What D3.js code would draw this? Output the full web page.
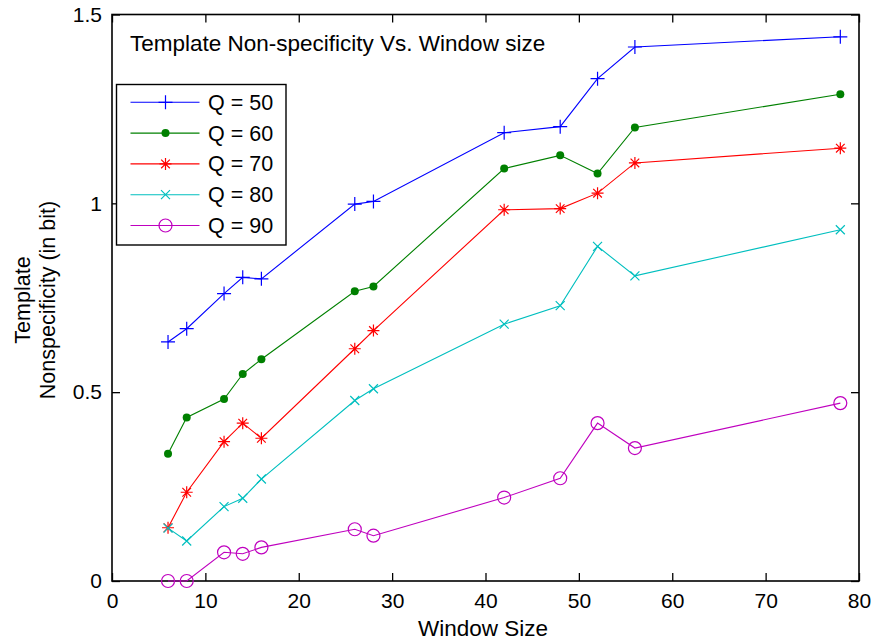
<!DOCTYPE html>
<head>
<meta charset="UTF-8">
<script src="https://d3js.org/d3.v7.min.js"></script>
<style>
  body { margin: 0; background: #fff; }
  svg { font-family: Arial, "Liberation Sans", Helvetica, sans-serif; }
  .tick text { font-size: 21px; fill: #000; }
</style>
</head>
<body>
<div id="chart"></div>
<script>
  // window sizes (x)
  var windowSizes = [6, 8, 12, 14, 16, 26, 28, 42, 48, 52, 56, 78];

  var seriesNames = ["Q = 50", "Q = 60", "Q = 70", "Q = 80", "Q = 90"];

  var q50 = [0.633, 0.668, 0.761, 0.804, 0.800, 0.998, 1.005, 1.187, 1.203, 1.330, 1.414, 1.441];
  var q60 = [0.337, 0.433, 0.482, 0.548, 0.587, 0.767, 0.780, 1.092, 1.127, 1.079, 1.201, 1.289];
  var q70 = [0.141, 0.235, 0.369, 0.418, 0.378, 0.615, 0.663, 0.983, 0.986, 1.027, 1.107, 1.146];
  var q80 = [0.140, 0.106, 0.197, 0.219, 0.270, 0.478, 0.509, 0.680, 0.729, 0.886, 0.808, 0.930];
  var q90 = [0.000, 0.000, 0.076, 0.072, 0.089, 0.137, 0.120, 0.221, 0.272, 0.418, 0.352, 0.471];

  var xTicks = [0, 10, 20, 30, 40, 50, 60, 70, 80];
  var yTicks = [0, 0.5, 1, 1.5];

  var colors = ["#0000ff", "#008000", "#ff0000", "#00bfbf", "#bf00bf"];
  var markers = ["plus", "dot", "star", "cross", "circle"];
  var allSeries = [q50, q60, q70, q80, q90];

  var width = 872, height = 641;
  var plotL = 112, plotR = 859, plotT = 14.5, plotB = 581;

  var x = d3.scaleLinear().domain([0, 80]).range([plotL, plotR]);
  var y = d3.scaleLinear().domain([0, 1.5]).range([plotB, plotT]);

  var svg = d3.select("#chart").append("svg")
      .attr("width", width)
      .attr("height", height);

  // axes: ticks point inward, on all four sides
  var tl = 8;
  svg.append("g").attr("transform", "translate(0," + plotB + ")")
      .call(d3.axisBottom(x).tickValues(xTicks).tickSizeInner(-tl).tickSizeOuter(0).tickPadding(12))
      .call(function(g) { g.select(".domain").remove(); });
  svg.append("g").attr("transform", "translate(0," + plotT + ")")
      .call(d3.axisTop(x).tickValues(xTicks).tickSizeInner(-tl).tickSizeOuter(0).tickFormat(""))
      .call(function(g) { g.select(".domain").remove(); });
  svg.append("g").attr("transform", "translate(" + plotL + ",0)")
      .call(d3.axisLeft(y).tickValues(yTicks).tickSizeInner(-tl).tickSizeOuter(0).tickPadding(10).tickFormat(d3.format("")))
      .call(function(g) { g.select(".domain").remove(); });
  svg.append("g").attr("transform", "translate(" + plotR + ",0)")
      .call(d3.axisRight(y).tickValues(yTicks).tickSizeInner(-tl).tickSizeOuter(0).tickFormat(""))
      .call(function(g) { g.select(".domain").remove(); });
  svg.selectAll(".tick line").attr("stroke", "#000").attr("stroke-width", 1.3);

  svg.append("rect")
      .attr("x", plotL).attr("y", plotT)
      .attr("width", plotR - plotL).attr("height", plotB - plotT)
      .attr("fill", "none").attr("stroke", "#000").attr("stroke-width", 1.6);

  function drawMarker(g, type, color, cx, cy) {
    var s;
    if (type == "plus") {
      g.append("path").attr("d", "M" + (cx - 7) + "," + cy + "H" + (cx + 7) + "M" + cx + "," + (cy - 7) + "V" + (cy + 7))
        .attr("stroke", color).attr("stroke-width", 1.2).attr("fill", "none");
    } else if (type == "dot") {
      g.append("circle").attr("cx", cx).attr("cy", cy).attr("r", 4).attr("fill", color);
    } else if (type == "star") {
      s = 6;
      var d2 = s * 0.72;
      g.append("path").attr("d",
          "M" + (cx - s) + "," + cy + "H" + (cx + s) +
          "M" + cx + "," + (cy - s) + "V" + (cy + s) +
          "M" + (cx - d2) + "," + (cy - d2) + "L" + (cx + d2) + "," + (cy + d2) +
          "M" + (cx - d2) + "," + (cy + d2) + "L" + (cx + d2) + "," + (cy - d2))
        .attr("stroke", color).attr("stroke-width", 1.2).attr("fill", "none");
    } else if (type == "cross") {
      s = 4.5;
      g.append("path").attr("d",
          "M" + (cx - s) + "," + (cy - s) + "L" + (cx + s) + "," + (cy + s) +
          "M" + (cx - s) + "," + (cy + s) + "L" + (cx + s) + "," + (cy - s))
        .attr("stroke", color).attr("stroke-width", 1.2).attr("fill", "none");
    } else {
      g.append("circle").attr("cx", cx).attr("cy", cy).attr("r", 6.5)
        .attr("fill", "none").attr("stroke", color).attr("stroke-width", 1.2);
    }
  }

  var line = d3.line()
      .x(function(d, i) { return x(windowSizes[i]); })
      .y(function(d) { return y(d); });

  allSeries.forEach(function(vals, k) {
    var g = svg.append("g");
    g.append("path").attr("d", line(vals))
      .attr("fill", "none").attr("stroke", colors[k]).attr("stroke-width", 1.1);
    vals.forEach(function(v, i) {
      drawMarker(g, markers[k], colors[k], x(windowSizes[i]), y(v));
    });
  });

  // title inside axes
  svg.append("text")
      .attr("x", 130).attr("y", 51)
      .attr("font-size", "22.5px")
      .text("Template Non-specificity Vs. Window size");

  // legend
  var legX = 116.5, legY = 84.5, legW = 169.5, legH = 160.5;
  var leg = svg.append("g");
  leg.append("rect").attr("x", legX).attr("y", legY).attr("width", legW).attr("height", legH)
      .attr("fill", "#fff").attr("stroke", "#000").attr("stroke-width", 1.4);
  seriesNames.forEach(function(name, k) {
    var ly = 102.3 + k * 30.8;
    leg.append("line").attr("x1", 130.5).attr("x2", 199.5).attr("y1", ly).attr("y2", ly)
      .attr("stroke", colors[k]).attr("stroke-width", 1.1);
    drawMarker(leg, markers[k], colors[k], 165.5, ly);
    leg.append("text").attr("x", 208).attr("y", ly + 7.5)
      .attr("font-size", "21.5px").text(name);
  });

  // axis labels
  svg.append("text")
      .attr("x", 483).attr("y", 636)
      .attr("text-anchor", "middle").attr("font-size", "22.5px")
      .text("Window Size");

  var yl = svg.append("text")
      .attr("transform", "translate(0," + 300 + ") rotate(-90)")
      .attr("text-anchor", "middle").attr("font-size", "21.5px");
  yl.append("tspan").attr("x", 0).attr("y", 30).text("Template");
  yl.append("tspan").attr("x", 0).attr("y", 55).text("Nonspecificity (in bit)");
</script>
</body>
